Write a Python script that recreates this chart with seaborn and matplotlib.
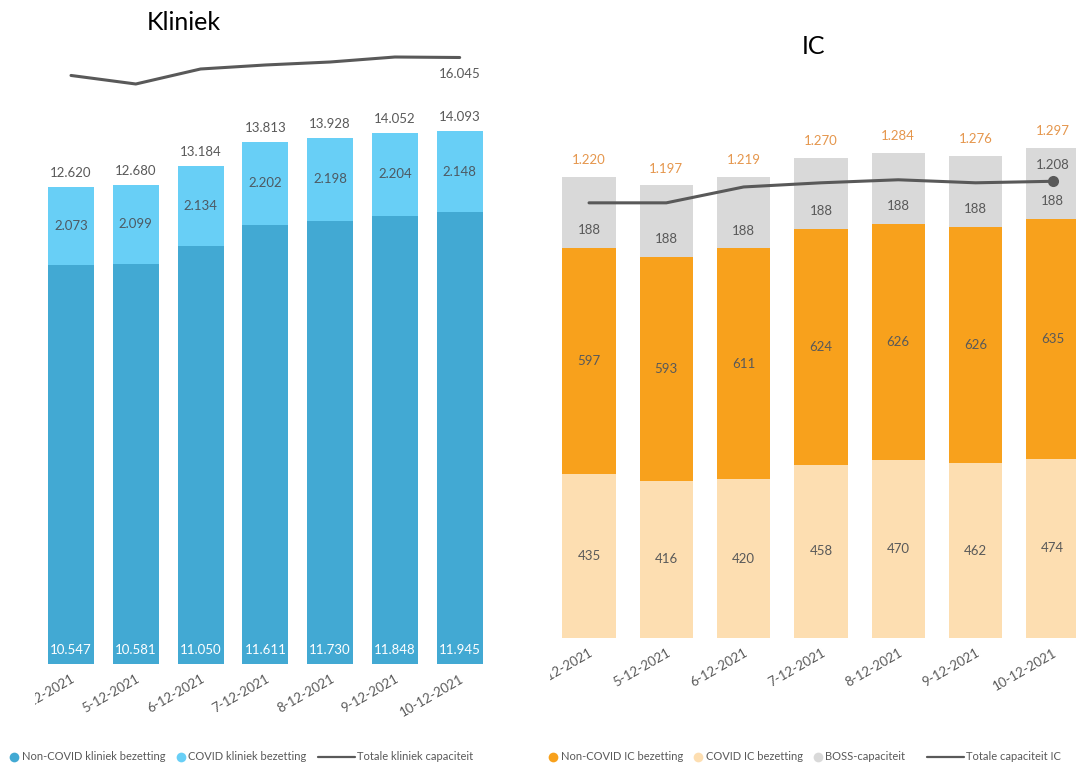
import numpy as np
import matplotlib
matplotlib.use("Agg")
import matplotlib.pyplot as plt
from matplotlib.lines import Line2D
from matplotlib.transforms import Bbox, TransformedBbox
import seaborn as sns

# ---------------- data ----------------
dates = ["4-12-2021", "5-12-2021", "6-12-2021", "7-12-2021",
         "8-12-2021", "9-12-2021", "10-12-2021"]

# Kliniek
kl_noncovid = [10547, 10581, 11050, 11611, 11730, 11848, 11945]
kl_covid = [2073, 2099, 2134, 2202, 2198, 2204, 2148]
kl_total = [12620, 12680, 13184, 13813, 13928, 14052, 14093]
kl_capacity = [15570, 15344, 15741, 15847, 15926, 16058, 16045]

# IC
ic_covid = [435, 416, 420, 458, 470, 462, 474]
ic_noncovid = [597, 593, 611, 624, 626, 626, 635]
ic_boss = [188, 188, 188, 188, 188, 188, 188]
ic_total = [1220, 1197, 1219, 1270, 1284, 1276, 1297]
ic_capacity = [1151, 1151, 1193, 1204, 1212, 1204, 1208]

def nl(v):
    return f"{v:,}".replace(",", ".")

# ---------------- style ----------------
sns.set_theme(style="white")
plt.rcParams["font.family"] = ["Lato", "DejaVu Sans"]

C_KL_NON = "#42A9D3"
C_KL_COV = "#68CFF6"
C_IC_NON = "#F8A11C"
C_IC_COV = "#FDDEB1"
C_BOSS = "#D9D9D9"
C_LINE = "#595959"
C_TXT = "#595959"
C_ORTXT = "#E5964C"
FS = 9.5

W, H = 1076, 766
fig = plt.figure(figsize=(W / 100, H / 100), dpi=100)
fig.patch.set_facecolor("white")


def rect(x0, ytop, x1, ybot):
    return [x0 / W, 1 - ybot / H, (x1 - x0) / W, (ybot - ytop) / H]


axL = fig.add_axes(rect(35, 40, 540, 664))
axR = fig.add_axes(rect(550, 100, 1076, 638))

n = len(dates)
xs = np.arange(n)
bar_kw = dict(saturation=1, errorbar=None, linewidth=0, edgecolor="none")

# ---------------- Kliniek ----------------
kl_stack = np.array(kl_noncovid) + np.array(kl_covid)
sns.barplot(x=dates, y=kl_stack, color=C_KL_COV, width=0.71, ax=axL, **bar_kw)
sns.barplot(x=dates, y=kl_noncovid, color=C_KL_NON, width=0.71, ax=axL, **bar_kw)
sns.lineplot(x=xs, y=kl_capacity, color=C_LINE, linewidth=2.2, ax=axL)

for i in range(n):
    axL.annotate(nl(kl_total[i]), (i, kl_stack[i]), xytext=(0, 10),
                 textcoords="offset points", ha="center", va="center",
                 fontsize=FS, color=C_TXT)
    axL.annotate(nl(kl_covid[i]), (i, kl_noncovid[i] + kl_covid[i] / 2),
                 ha="center", va="center", fontsize=FS, color="#4d5a63")
    axL.annotate(nl(kl_noncovid[i]), (i, 0), xytext=(0, 10),
                 textcoords="offset points", ha="center", va="center",
                 fontsize=FS, color="white")
axL.annotate(nl(kl_capacity[-1]), (n - 1, kl_capacity[-1]), xytext=(0, -12),
             textcoords="offset points", ha="center", va="center",
             fontsize=FS, color=C_TXT)

axL.set_xlim(-0.556, 7.24)
axL.set_ylim(0, 16508)

# ---------------- IC ----------------
ic_stack2 = np.array(ic_covid) + np.array(ic_noncovid)
ic_stack3 = ic_stack2 + np.array(ic_boss)
sns.barplot(x=dates, y=ic_stack3, color=C_BOSS, width=0.69, ax=axR, **bar_kw)
sns.barplot(x=dates, y=ic_stack2, color=C_IC_NON, width=0.69, ax=axR, **bar_kw)
sns.barplot(x=dates, y=ic_covid, color=C_IC_COV, width=0.69, ax=axR, **bar_kw)
sns.lineplot(x=xs, y=ic_capacity, color=C_LINE, linewidth=2.2, ax=axR,
             marker="o", markersize=8, markevery=[n - 1], markeredgewidth=0)

for i in range(n):
    axR.annotate(nl(ic_total[i]), (i, ic_stack3[i]), xytext=(0, 12),
                 textcoords="offset points", ha="center", va="center",
                 fontsize=FS, color=C_ORTXT)
    axR.annotate(nl(ic_boss[i]), (i, ic_stack2[i] + ic_boss[i] / 2),
                 xytext=(0, -13), textcoords="offset points",
                 ha="center", va="center", fontsize=FS, color=C_TXT)
    axR.annotate(nl(ic_noncovid[i]), (i, ic_covid[i] + ic_noncovid[i] / 2),
                 ha="center", va="center", fontsize=FS, color=C_TXT)
    axR.annotate(nl(ic_covid[i]), (i, ic_covid[i] / 2),
                 ha="center", va="center", fontsize=FS, color=C_TXT)
axR.annotate(nl(ic_capacity[-1]), (n - 1, ic_capacity[-1]), xytext=(0, 12),
             textcoords="offset points", ha="center", va="center",
             fontsize=FS, color=C_TXT)

axR.set_xlim(-0.505, 6.30)
axR.set_ylim(0, 1423)

# ---------------- axes cosmetics ----------------
for ax in (axL, axR):
    ax.set_xlabel("")
    ax.set_ylabel("")
    ax.set_yticks([])
    for s in ax.spines.values():
        s.set_visible(False)
    ax.set_xticks(xs)
    ax.set_xticklabels(dates, rotation=30, ha="right",
                       rotation_mode="anchor", fontsize=FS, color=C_TXT)
    ax.tick_params(axis="x", length=0, pad=6)
    pos = ax.get_position()
    clip = TransformedBbox(Bbox([[pos.x0, 0], [pos.x1, 1]]), fig.transFigure)
    for lab in ax.get_xticklabels():
        lab.set_clip_on(True)
        lab.set_clip_box(clip)
    ax.set_facecolor("white")
    ax.grid(False)

# titles
fig.text(184 / W, 1 - 22 / H, "Kliniek", ha="center", va="center",
         fontsize=18, color="black")
fig.text(813 / W, 1 - 46 / H, "IC", ha="center", va="center",
         fontsize=18, color="black")

# ---------------- legends ----------------
def mk(color):
    return Line2D([], [], marker="o", linestyle="none", markersize=7,
                  markerfacecolor=color, markeredgewidth=0)

leg_kw = dict(frameon=False, fontsize=8, labelcolor=C_TXT, borderpad=0,
              borderaxespad=0, handletextpad=0.25, columnspacing=1.0,
              loc="center left")

legL1 = fig.legend([mk(C_KL_NON), mk(C_KL_COV)],
                   ["Non-COVID kliniek bezetting", "COVID kliniek bezetting"],
                   ncol=2, handlelength=0.8,
                   bbox_to_anchor=(10 / W, 1 - 757 / H), **leg_kw)
legL2 = fig.legend([Line2D([], [], color=C_LINE, linewidth=1.6)],
                   ["Totale kliniek capaciteit"], handlelength=3.3,
                   bbox_to_anchor=(318 / W, 1 - 757 / H), **leg_kw)
legR1 = fig.legend([mk(C_IC_NON), mk(C_IC_COV), mk(C_BOSS)],
                   ["Non-COVID IC bezetting", "COVID IC bezetting",
                    "BOSS-capaciteit"],
                   ncol=3, handlelength=0.8,
                   bbox_to_anchor=(549 / W, 1 - 757 / H), **leg_kw)
legR2 = fig.legend([Line2D([], [], color=C_LINE, linewidth=1.6)],
                   ["Totale capaciteit IC"], handlelength=3.3,
                   bbox_to_anchor=(927 / W, 1 - 757 / H), **leg_kw)

fig.savefig("out.png", dpi=100, facecolor="white")
